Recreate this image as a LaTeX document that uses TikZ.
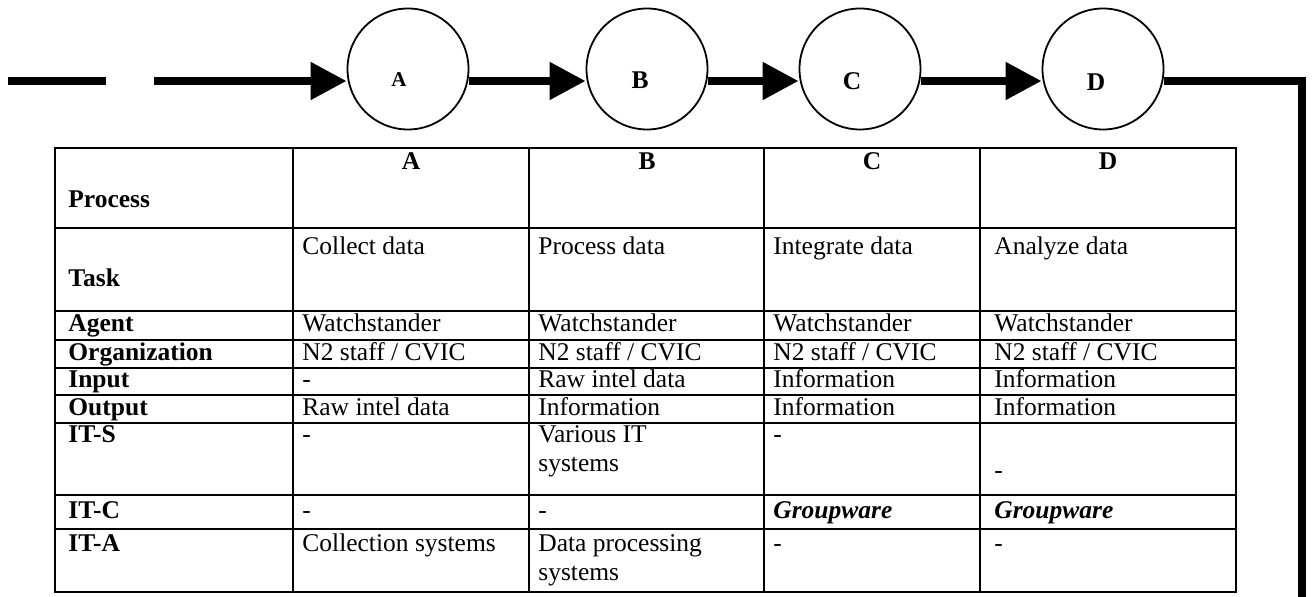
\documentclass[tikz,border=0pt]{standalone}
\usepackage{fontspec}
\setmainfont{Liberation Serif}
\usepackage{tikz}
\usetikzlibrary{positioning,arrows.meta}
\newcommand{\cellfont}{\fontsize{12.75}{15}\selectfont}

\begin{document}
\begin{tikzpicture}[
  x=0.5pt, y=-0.5pt,
  >={Triangle[length=18pt,width=18pt]},
  stage/.style={draw, circle, line width=0.9pt, minimum size=60.5pt, inner sep=0pt},
  stagelbl/.style={inner sep=0pt, font=\cellfont\bfseries},
  flow/.style={line width=4pt, ->},
  grid/.style={line width=0.8pt},
  cell/.style={anchor=base west, inner sep=0pt, font=\cellfont},
  lbl/.style={cell, font=\cellfont\bfseries},
  colhead/.style={anchor=base, inner sep=0pt, font=\cellfont\bfseries}
]
\useasboundingbox (0,0) rectangle (1312,597);

% --- Process chain A -> D ---
\node[stage] (cA) at (408,69) {};
\node[stage] (cB) at (647,69) {};
\node[stage] (cC) at (860,69) {};
\node[stage] (cD) at (1103,69) {};
\node[stagelbl, font=\fontsize{10.5}{12}\selectfont\bfseries] (lA) at (399,80) {A};
\node[stagelbl] (lB) at (640,80) {B};
\node[stagelbl] (lC) at (852,81) {C};
\node[stagelbl] (lD) at (1096,82) {D};

\coordinate (tail) at (8,81);
\coordinate (gap) at (106,81);
\coordinate (entry) at (154,81);
\coordinate (turn) at (1302,81);
\coordinate (back) at (1302,597);

\draw[line width=4pt] (tail) -- (gap);
\draw[flow] (entry) -- ([yshift=-6pt]cA.west);
\draw[flow] ([yshift=-6pt]cA.east) -- ([yshift=-6pt]cB.west);
\draw[flow] ([yshift=-6pt]cB.east) -- ([yshift=-6pt]cC.west);
\draw[flow] ([yshift=-6pt]cC.east) -- ([yshift=-6pt]cD.west);
\draw[line width=4pt, line join=miter] ([yshift=-6pt]cD.east) -- (turn) -- (back);

% --- Table grid ---
\draw[grid] (55,148) rectangle (1236,592);
\foreach \cx in {293,529,764,980}
  \draw[grid] (\cx,148) -- (\cx,592);
\foreach \ry in {228,311,340,368,395,423,495,529}
  \draw[grid] (55,\ry) -- (1236,\ry);

% --- Row labels ---
\node[lbl] (rProcess) at (68,208) {Process};
\node[lbl] (rTask) at (68,287) {Task};
\node[lbl] (rAgent) at (68,332) {Agent};
\node[lbl] (rOrg) at (68,361) {Organization};
\node[lbl] (rInput) at (68,388) {Input};
\node[lbl] (rOutput) at (68,416) {Output};
\node[lbl] (rITS) at (68,443) {IT-S};
\node[lbl] (rITC) at (68,519) {IT-C};
\node[lbl] (rITA) at (68,552) {IT-A};

% --- Column heads ---
\node[colhead] (hA) at (411,170) {A};
\node[colhead] (hB) at (647,170) {B};
\node[colhead] (hC) at (872,170) {C};
\node[colhead] (hD) at (1108,170) {D};

% --- Column A ---
\node[cell] (taskA) at (302,255) {Collect data};
\node[cell] (agA) at (302,332) {Watchstander};
\node[cell] (orgA) at (302,361) {N2 staff / CVIC};
\node[cell] (inA) at (302,388) {-};
\node[cell] (outA) at (302,416) {Raw intel data};
\node[cell] (itsA) at (302,443) {-};
\node[cell] (itcA) at (302,519) {-};
\node[cell] (itaA) at (302,552) {Collection systems};

% --- Column B ---
\node[cell] (taskB) at (538,255) {Process data};
\node[cell] (agB) at (538,332) {Watchstander};
\node[cell] (orgB) at (538,361) {N2 staff / CVIC};
\node[cell] (inB) at (538,388) {Raw intel data};
\node[cell] (outB) at (538,416) {Information};
\node[cell] (itsB) at (538,443) {Various IT};
\node[cell] (itsB2) at (538,472) {systems};
\node[cell] (itcB) at (538,519) {-};
\node[cell] (itaB) at (538,552) {Data processing};
\node[cell] (itaB2) at (538,581) {systems};

% --- Column C ---
\node[cell] (taskC) at (773,255) {Integrate data};
\node[cell] (agC) at (773,332) {Watchstander};
\node[cell] (orgC) at (773,361) {N2 staff / CVIC};
\node[cell] (inC) at (773,388) {Information};
\node[cell] (outC) at (773,416) {Information};
\node[cell] (itsC) at (773,443) {-};
\node[cell] (itcC) at (773,519) {\bfseries\itshape Groupware};
\node[cell] (itaC) at (773,552) {-};

% --- Column D ---
\node[cell] (taskD) at (994,255) {Analyze data};
\node[cell] (agD) at (994,332) {Watchstander};
\node[cell] (orgD) at (994,361) {N2 staff / CVIC};
\node[cell] (inD) at (994,388) {Information};
\node[cell] (outD) at (994,416) {Information};
\node[cell] (itsD) at (994,479) {-};
\node[cell] (itcD) at (994,519) {\bfseries\itshape Groupware};
\node[cell] (itaD) at (994,552) {-};

\end{tikzpicture}
\end{document}
